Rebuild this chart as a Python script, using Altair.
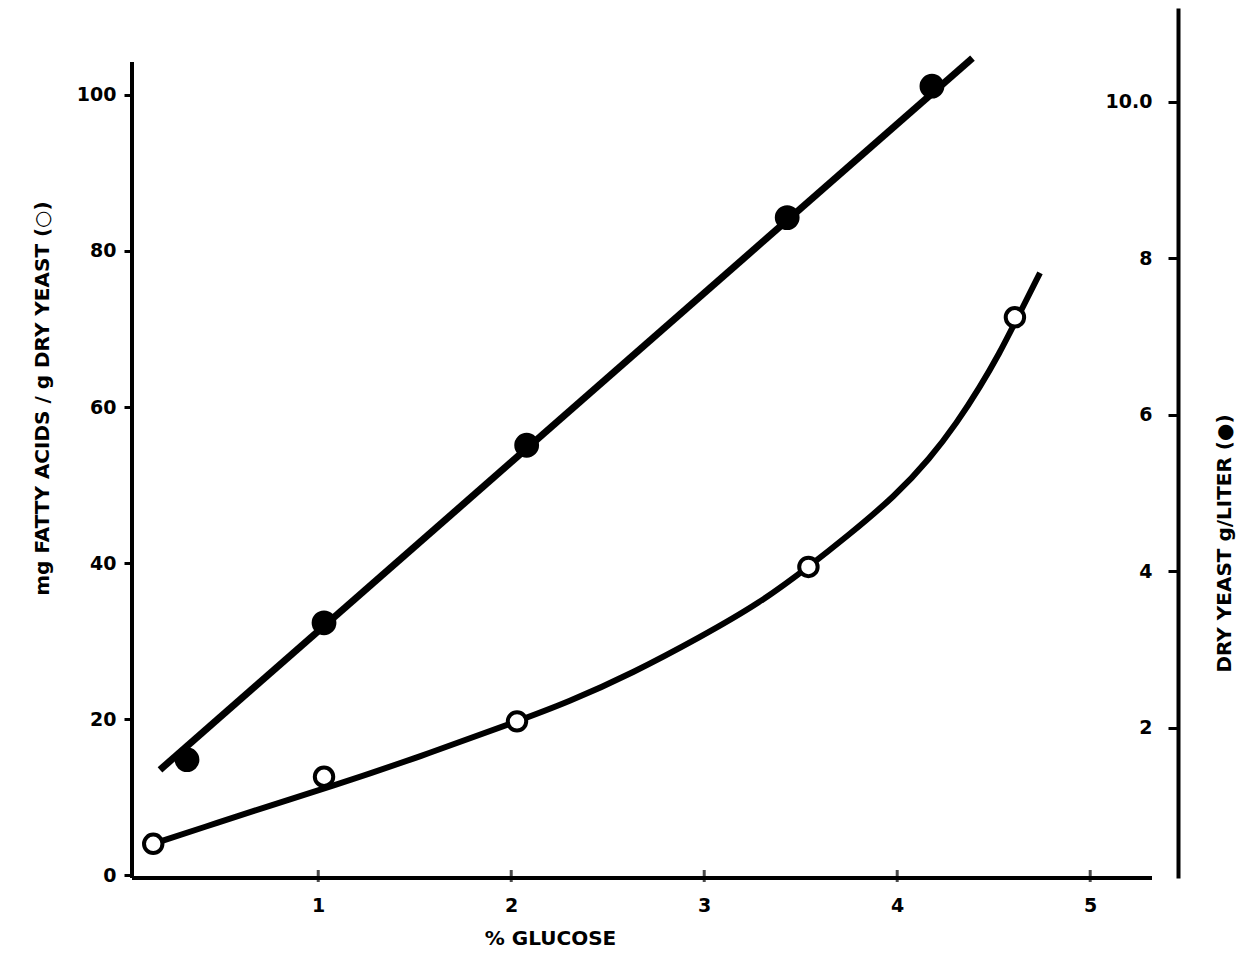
import altair as alt
import pandas as pd

# Open circles: mg fatty acids / g dry yeast (left axis)
open_x = [0.145, 1.03, 2.03, 3.54, 4.61]
open_y = [4.0, 12.6, 19.7, 39.5, 71.5]
# Smooth curve drawn through the open circles
curve_x = [0.145, 0.49, 0.75, 1.05, 1.53, 2.03, 2.29, 2.63, 2.98, 3.29, 3.54, 3.74, 3.99,
           4.17, 4.31, 4.43, 4.53, 4.61, 4.74]
curve_y = [4.0, 6.8, 8.9, 11.2, 15.2, 19.7, 22.1, 25.9, 30.5, 34.9, 39.5, 43.4, 48.6,
           53.4, 58.0, 62.6, 66.9, 70.8, 77.2]
# Filled circles: dry yeast g/liter (right axis)
fill_x = [0.32, 1.03, 2.08, 3.43, 4.18]
fill_y = [1.59, 3.34, 5.61, 8.52, 10.2]
# Straight line through the filled circles
line_x = [0.18, 4.39]
line_y = [1.46, 10.56]

left_ticks = [0, 20, 40, 60, 80, 100]
right_ticks = [2, 4, 6, 8, 10]
x_ticks = [1, 2, 3, 4, 5]

W, H = 1046, 870
FONT = "DejaVu Sans"

open_df = pd.DataFrame({"x": open_x, "y": open_y})
curve_df = pd.DataFrame({"x": curve_x, "y": curve_y})
fill_df = pd.DataFrame({"x": fill_x, "y": fill_y})
line_df = pd.DataFrame({"x": line_x, "y": line_y})
xt_df = pd.DataFrame({"x": x_ticks})

xscale = alt.Scale(domain=[0.035, 5.455], nice=False, zero=False)
xaxis = alt.Axis(values=x_ticks, title="% GLUCOSE", grid=False, ticks=False, domain=False,
                 labelPadding=18, titleX=418, titleY=50, titleFontSize=20,
                 titleFontWeight="bold", labelFontSize=19, labelFontWeight="bold")

lscale = alt.Scale(domain=[-0.38, 111.15], nice=False, zero=False)
laxis = alt.Axis(values=left_ticks, title="mg FATTY ACIDS / g DRY YEAST (○)",
                 grid=False, domain=False, tickSize=8, labelPadding=8, labelFontSize=19,
                 labelFontWeight="bold", titleFontSize=20, titleFontWeight="bold",
                 titleX=-80, titleY=390, titleAngle=270)

rscale = alt.Scale(domain=[0.077, 11.2], nice=False, zero=False)
raxis = alt.Axis(values=right_ticks, title="DRY YEAST   g/LITER  (●)", orient="left",
                 offset=-W, grid=False, tickSize=10, labelPadding=16, labelFontSize=19,
                 labelFontWeight="bold", titleFontSize=20, titleFontWeight="bold",
                 titleX=56, titleY=535, titleAngle=270,
                 labelExpr="datum.value == 10 ? '10.0' : datum.label")

X = alt.X("x:Q", scale=xscale, axis=xaxis)

# axis lines as drawn in the original (left axis shorter, bottom axis stops before right axis)
left_line = alt.Chart(xt_df).mark_rule(color="black", strokeWidth=4).encode(
    x=alt.value(0), y=alt.value(54), y2=alt.value(H))
bottom_line = alt.Chart(xt_df).mark_rule(color="black", strokeWidth=4).encode(
    x=alt.value(0), x2=alt.value(1020), y=alt.value(H))
xticks = alt.Chart(xt_df).mark_tick(color="black", thickness=3, size=12, orient="vertical").encode(
    x=X, y=alt.value(H - 2))

curve = alt.Chart(curve_df).mark_line(color="black", strokeWidth=6, interpolate="basis").encode(
    x=X, y=alt.Y("y:Q", scale=lscale, axis=laxis))
opens = alt.Chart(open_df).mark_point(shape="circle", filled=True, fill="white",
                                       stroke="black", strokeWidth=4, size=340, opacity=1).encode(
    x=X, y=alt.Y("y:Q", scale=lscale, axis=laxis))
left = alt.layer(curve, opens)

line = alt.Chart(line_df).mark_line(color="black", strokeWidth=7).encode(
    x=X, y=alt.Y("y:Q", scale=rscale, axis=raxis))
fills = alt.Chart(fill_df).mark_point(shape="circle", filled=True, fill="black",
                                       stroke="black", size=520, opacity=1).encode(
    x=X, y=alt.Y("y:Q", scale=rscale, axis=raxis))
right = alt.layer(line, fills)

chart = alt.layer(left, right, left_line, bottom_line, xticks).resolve_scale(y="independent").properties(
    width=W, height=H,
    autosize=alt.AutoSizeParams(type="none"),
    padding={"left": 124, "top": 0, "right": 60, "bottom": 78},
).configure_view(stroke=None).configure_axis(
    domainColor="black", domainWidth=4, tickColor="black", tickWidth=3,
    labelColor="black", titleColor="black", labelFont=FONT, titleFont=FONT,
)

chart.save("out.html", embed_options={"renderer": "svg", "actions": False})
